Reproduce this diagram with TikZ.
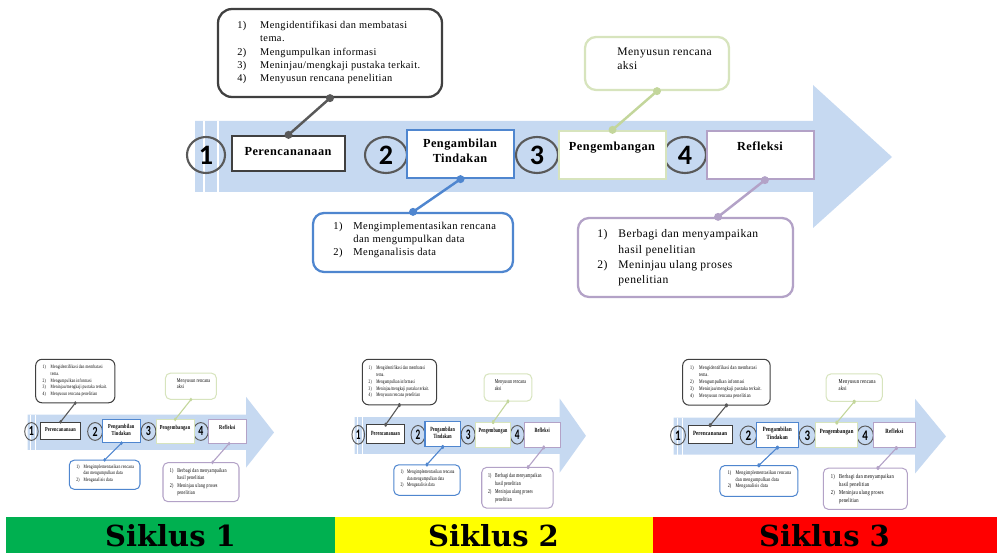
\documentclass[tikz,border=0pt]{standalone}
\usepackage{fontspec}
\setmainfont{Liberation Serif}
\newfontfamily\dgfont{Liberation Serif}[LetterSpace=4]
\newfontfamily\numfont{Carlito}
\newfontfamily\barfont{DejaVu Serif}
\usepackage{tikz}
\usetikzlibrary{shapes.geometric, arrows.meta, positioning, calc}

\definecolor{arrowblue}{HTML}{C6D9F1}
\definecolor{darkgr}{HTML}{404040}
\definecolor{circgr}{HTML}{595959}
\definecolor{boxblue}{HTML}{4F86CF}
\definecolor{boxgreen}{HTML}{D7E4BD}
\definecolor{linkgreen}{HTML}{C3D69B}
\definecolor{boxpurple}{HTML}{B3A2C7}
\definecolor{sikgreen}{HTML}{00B050}
\definecolor{sikyellow}{HTML}{FFFF00}
\definecolor{sikred}{HTML}{FF0000}

\def\lwf{1}
\def\rcf{1}
\tikzset{
  numcirc/.style={ellipse, draw=circgr, line width=\lwf*1.2pt, minimum width=0.84cm, minimum height=0.72cm, inner sep=0pt, font=\numfont\bfseries\fontsize{16}{16}\selectfont},
  stepbox/.style={rectangle, fill=white, line width=\lwf*1.3pt, minimum width=2.14cm, minimum height=0.96cm, inner sep=0pt},
  notebox/.style={rectangle, rounded corners=\rcf*0.22cm, fill=white, line width=\lwf*1.3pt, inner sep=0pt},
  boxlabel/.style={font=\dgfont\bfseries\fontsize{7}{8.5}\selectfont, inner sep=0pt, anchor=base},
  listtxt/.style={inner sep=0pt, anchor=base west},
  link/.style={line width=\lwf*1.4pt},
  bartxt/.style={font=\barfont\bfseries\fontsize{16.5}{18}\selectfont, inner sep=0pt},
}

% one copy of the cycle diagram, #1 = name prefix, #2 = line width factor, #3 = corner factor
\newcommand{\siklusdiagram}[3]{%
  \def\lwf{#2}%
  \def\rcf{#3}%
  % big arrow
  \fill[arrowblue] (195,121) -- (813,121) -- (813,85) -- (892,157) -- (813,228) -- (813,192) -- (195,192) -- cycle;
  \draw[white, line width=\lwf*1.3pt] (204,121) -- (204,192) (218,121) -- (218,192);
  % steps
  \node[numcirc, minimum width=0.76cm] (#1n1) at (206,155) {1};
  \node[numcirc] (#1n2) at (386,155) {2};
  \node[numcirc] (#1n3) at (537,155) {3};
  \node[numcirc] (#1n4) at (685,155) {4};
  \node[stepbox, draw=darkgr, minimum width=2.26cm, minimum height=0.70cm] (#1b1) at (288.5,153.5) {};
  \node[stepbox, draw=boxblue] (#1b2) at (460.5,154) {};
  \node[stepbox, draw=boxgreen] (#1b3) at (612.5,155) {};
  \node[stepbox, draw=boxpurple] (#1b4) at (760.5,155) {};
  \node[boxlabel] (#1l1) at (288,156) {Perencananaan};
  \node[boxlabel] (#1l2) at (460,148) {\begin{tabular}[t]{@{}c@{}}Pengambilan\\Tindakan\end{tabular}};
  \node[boxlabel] (#1l3) at (612,151) {Pengembangan};
  \node[boxlabel] (#1l4) at (760,151) {Refleksi};
  % notes
  \node[notebox, draw=darkgr, rounded corners=\rcf*0.28cm, minimum width=4.48cm, minimum height=1.76cm] (#1c1) at (330,53) {};
  \node[notebox, draw=boxgreen, minimum width=2.88cm, minimum height=1.06cm] (#1c2) at (657,63.5) {};
  \node[notebox, draw=boxblue, minimum width=4.0cm, minimum height=1.18cm] (#1c3) at (413,242.5) {};
  \node[notebox, draw=boxpurple, minimum width=4.3cm, minimum height=1.58cm] (#1c4) at (685.5,257.5) {};
  \node[listtxt, font=\dgfont\fontsize{5.9}{7.6}\selectfont] (#1t1) at (237,28.5) {\begin{tabular}[t]{@{}p{13pt}@{}l@{}}1) & Mengidentifikasi dan membatasi\\ & tema.\\2) & Mengumpulkan informasi\\3) & Meninjau/mengkaji pustaka terkait.\\4) & Menyusun rencana penelitian\end{tabular}};
  \node[listtxt, font=\dgfont\fontsize{6.6}{7.7}\selectfont] (#1t2) at (617,55.5) {\begin{tabular}[t]{@{}l@{}}Menyusun rencana\\aksi\end{tabular}};
  \node[listtxt, font=\dgfont\fontsize{6}{7.2}\selectfont] (#1t3) at (333,230) {\begin{tabular}[t]{@{}p{11.4pt}@{}l@{}}1) & Mengimplementasikan rencana\\ & dan mengumpulkan data\\2) & Menganalisis data\end{tabular}};
  \node[listtxt, font=\dgfont\fontsize{6.6}{8.6}\selectfont] (#1t4) at (597,238) {\begin{tabular}[t]{@{}p{12pt}@{}l@{}}1) & Berbagi dan menyampaikan\\ & hasil penelitian\\2) & Meninjau ulang proses\\ & penelitian\end{tabular}};
  % links
  \draw[link, circgr] (#1c1.south) -- (#1b1.north);
  \fill[circgr] (#1c1.south) circle (4) (#1b1.north) circle (4);
  \draw[link, linkgreen] (#1c2.south) -- (#1b3.north);
  \fill[linkgreen] (#1c2.south) circle (4) (#1b3.north) circle (4);
  \draw[link, boxblue] (#1c3.north) -- (#1b2.south);
  \fill[boxblue] (#1c3.north) circle (4) (#1b2.south) circle (4);
  \draw[link, boxpurple] ($(#1c4.north west)!0.65!(#1c4.north east)$) -- ($(#1b4.south west)!0.54!(#1b4.south east)$);
  \fill[boxpurple] ($(#1c4.north west)!0.65!(#1c4.north east)$) circle (4) ($(#1b4.south west)!0.54!(#1b4.south east)$) circle (4);
}

\begin{document}
\begin{tikzpicture}[x=0.02cm, y=-0.02cm]
\useasboundingbox (0,0) rectangle (997,553);

% large diagram
\siklusdiagram{a}{1}{1}

% three small copies
\begin{scope}[shift={(-41.4,354.85)}, xscale=0.3536, yscale=0.4944, transform shape]
  \siklusdiagram{p}{0.45}{0.45}
\end{scope}
\begin{scope}[shift={(289.9,354.65)}, xscale=0.3319, yscale=0.517, transform shape]
  \siklusdiagram{q}{0.45}{0.45}
\end{scope}
\begin{scope}[shift={(597.5,354.6)}, xscale=0.3907, yscale=0.521, transform shape]
  \siklusdiagram{r}{0.45}{0.45}
\end{scope}

% cycle bars
\fill[sikgreen] (6,517) rectangle (335,553);
\fill[sikyellow] (335,517) rectangle (652.5,553);
\fill[sikred] (652.5,517) rectangle (997,553);
\node[bartxt] (s1) at (170.5,536) {Siklus 1};
\node[bartxt] (s2) at (493.5,536) {Siklus 2};
\node[bartxt] (s3) at (824.5,536) {Siklus 3};
\end{tikzpicture}
\end{document}
